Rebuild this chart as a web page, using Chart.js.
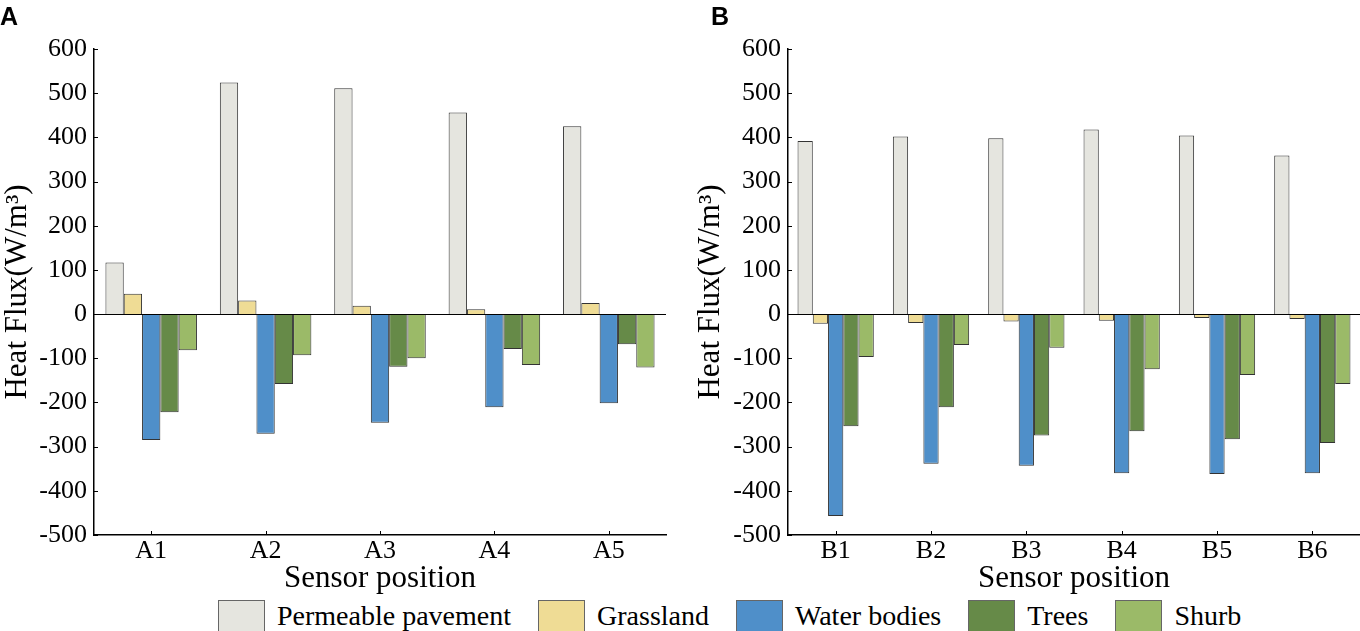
<!DOCTYPE html>
<html>
<head>
<meta charset="utf-8">
<script src="https://cdn.jsdelivr.net/npm/chart.js@4"></script>
<style>
  html, body { margin: 0; padding: 0; background: #fff; }
  #wrap { position: relative; width: 1360px; height: 631px; overflow: hidden; background: #fff; }
  canvas { position: absolute; top: 0; }
  .panel { position: absolute; top: 2px; font-family: "Liberation Sans", Arial, sans-serif; font-weight: bold; font-size: 25px; color: #000; }
  #legend { position: absolute; left: 218px; top: 600px; display: flex; align-items: flex-start; font-family: "Liberation Serif", "Times New Roman", serif; font-size: 28px; color: #000; white-space: nowrap; }
  .item { display: flex; align-items: flex-start; margin-right: 27px; }
  .box { width: 47px; height: 32px; box-sizing: border-box; border: 1px solid #666; margin-right: 12px; }
  .lbl { line-height: 30px; margin-top: 1px; }
</style>
</head>
<body>
<div id="wrap">
  <canvas id="cA" width="680" height="600" style="left:0px;width:680px;height:600px"></canvas>
  <canvas id="cB" width="680" height="600" style="left:680px;width:680px;height:600px"></canvas>
  <div class="panel" style="left:0px">A</div>
  <div class="panel" style="left:711px">B</div>
  <div id="legend"></div>
</div>
<script>
// ---- data ----
const categoriesA = ['A1', 'A2', 'A3', 'A4', 'A5'];
const categoriesB = ['B1', 'B2', 'B3', 'B4', 'B5', 'B6'];
const seriesNames = ['Permeable pavement', 'Grassland', 'Water bodies', 'Trees', 'Shurb'];
const seriesColors = ['#E5E5DF', '#EFDC95', '#4F8FC9', '#668A48', '#9BBA68'];

const pavementA = [117, 524, 511, 456, 425];
const grasslandA = [46, 31, 19, 11, 25];
const waterA = [-285, -271, -246, -211, -202];
const treesA = [-222, -158, -119, -79, -68];
const shrubA = [-82, -93, -100, -115, -121];

const pavementB = [392, 402, 398, 418, 404, 359];
const grasslandB = [-22, -20, -17, -15, -9, -11];
const waterB = [-457, -339, -343, -360, -362, -360];
const treesB = [-254, -211, -275, -265, -283, -292];
const shrubB = [-97, -70, -76, -125, -138, -158];

const yMin = -500, yMax = 600, yStep = 100;
const xTitle = 'Sensor position';
const yTitle = 'Heat Flux(W/m\u00B3)';

// ---- helpers ----
const serif = "'Liberation Serif', 'Times New Roman', serif";
Chart.defaults.font.family = serif;
Chart.defaults.color = '#000';

const inwardTicks = {
  id: 'inwardTicks',
  afterDraw(chart) {
    const ctx = chart.ctx;
    const xs = chart.scales.x, ys = chart.scales.y;
    const area = chart.chartArea;
    ctx.save();
    ctx.strokeStyle = '#000';
    ctx.lineWidth = 1;
    ctx.beginPath();
    for (let i = 0; i < xs.ticks.length; i++) {
      const px = Math.round(xs.getPixelForTick(i)) + 0.5;
      ctx.moveTo(px, area.bottom);
      ctx.lineTo(px, area.bottom - 4);
    }
    for (let i = 0; i < ys.ticks.length; i++) {
      const py = Math.round(ys.getPixelForTick(i)) + 0.5;
      ctx.moveTo(area.left, py);
      ctx.lineTo(area.left + 4, py);
    }
    ctx.stroke();
    const z = Math.round(ys.getPixelForValue(0)) + 0.5;
    ctx.beginPath();
    ctx.moveTo(area.left, z);
    ctx.lineTo(area.right, z);
    ctx.stroke();
    ctx.restore();
  }
};

function makeChart(id, cats, seriesData, yAxisWidth, titlePad, rightPad) {
  const datasets = seriesData.map((d, i) => ({
    label: seriesNames[i],
    data: d,
    backgroundColor: seriesColors[i],
    borderColor: '#333333',
    borderWidth: 1,
    borderSkipped: 'start',
    categoryPercentage: 0.8,
    barPercentage: 1.0
  }));
  return new Chart(document.getElementById(id), {
    type: 'bar',
    data: { labels: cats, datasets },
    plugins: [inwardTicks],
    options: {
      responsive: false,
      animation: false,
      devicePixelRatio: 1,
      layout: { padding: { top: 49, right: rightPad, left: 0, bottom: 0 } },
      plugins: { legend: { display: false }, tooltip: { enabled: false } },
      scales: {
        x: {
          grid: { display: false, drawTicks: false },
          border: { display: true, color: '#000', width: 1.5 },
          ticks: { color: '#000', font: { family: serif, size: 26, lineHeight: 1.2 }, padding: 1, maxRotation: 0 },
          title: { display: true, text: xTitle, color: '#000', font: { family: serif, size: 31, lineHeight: 1.0 }, padding: { top: 0, bottom: 6 } },
          afterFit(axis) { axis.height = 65; }
        },
        y: {
          min: yMin, max: yMax,
          grid: { display: false, drawTicks: false },
          border: { display: true, color: '#000', width: 1.5 },
          ticks: { stepSize: yStep, color: '#000', font: { family: serif, size: 26, lineHeight: 1.2 }, padding: 7 },
          title: { display: true, text: yTitle, color: '#000', font: { family: serif, size: 31, lineHeight: 1.0 }, padding: { top: titlePad, bottom: 0 } },
          afterFit(axis) { axis.width = yAxisWidth; }
        }
      }
    }
  });
}

makeChart('cA', categoriesA, [pavementA, grasslandA, waterA, treesA, shrubA], 94, 2, 14);
makeChart('cB', categoriesB, [pavementB, grasslandB, waterB, treesB, shrubB], 108, 15, 0);

// ---- legend ----
const legend = document.getElementById('legend');
seriesNames.forEach((name, i) => {
  const item = document.createElement('div');
  item.className = 'item';
  const box = document.createElement('div');
  box.className = 'box';
  box.style.background = seriesColors[i];
  const lbl = document.createElement('div');
  lbl.className = 'lbl';
  lbl.textContent = name;
  item.appendChild(box);
  item.appendChild(lbl);
  legend.appendChild(item);
});
</script>
</body>
</html>
